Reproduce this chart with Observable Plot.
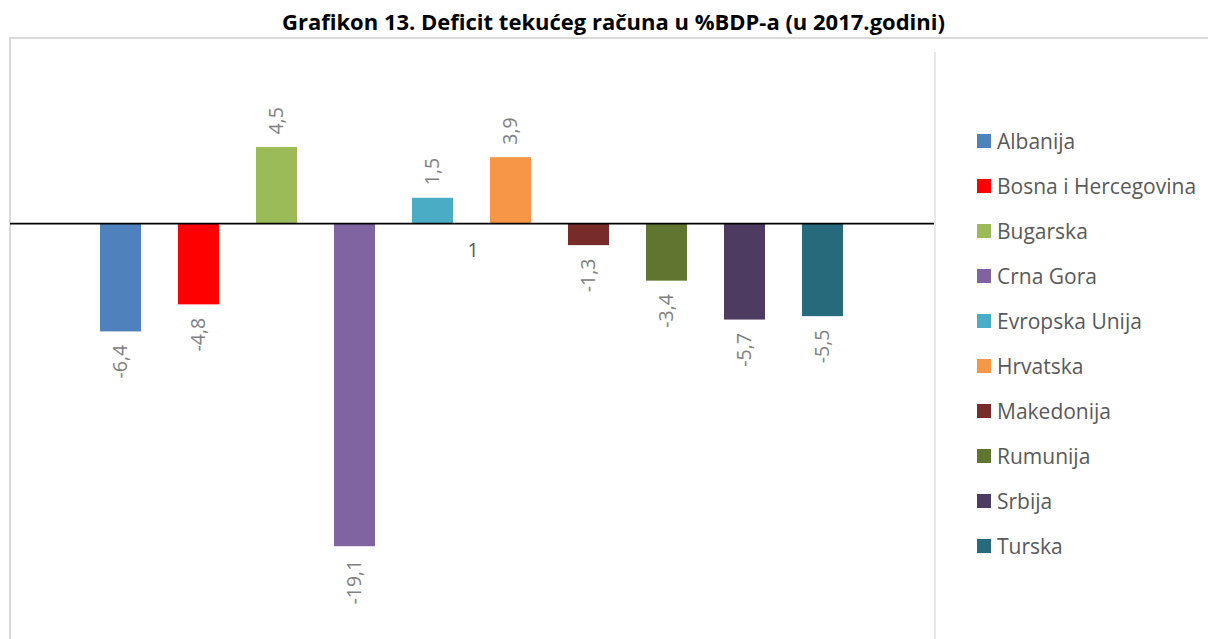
<!DOCTYPE html>
<html><head><meta charset="utf-8">
<script src="https://cdn.jsdelivr.net/npm/d3@7"></script>
<script src="https://cdn.jsdelivr.net/npm/@observablehq/plot@0.6"></script>
<style>
body{margin:0;width:1208px;height:639px;overflow:hidden;background:#fff;font-family:"Open Sans",sans-serif;position:relative}
#title{position:absolute;left:0;top:7px;width:1227px;text-align:center;font-weight:bold;font-size:22px;line-height:28px;color:#000;white-space:nowrap}
#frame{position:absolute;left:9px;top:37px;width:1300px;height:700px;border:2px solid #d9d9d9;box-sizing:border-box}
#chart{position:absolute;left:0;top:38px}
#legend{position:absolute;left:934px;top:52px;width:300px;height:700px;border-left:2px solid #e8e8e8;padding-top:66px;box-sizing:border-box}
.item{height:45px;display:flex;align-items:center;font-size:21px;color:#595959}
.sw{width:14px;height:14px;margin-left:41px;margin-right:6px;flex:none}
</style></head><body>
<div id="title"></div>
<div id="frame"></div>
<div id="chart"></div>
<div id="legend"></div>
<script>
const titleText = "Grafikon 13. Deficit tekućeg računa u %BDP-a (u 2017.godini)";
const countries = ["Albanija","Bosna i Hercegovina","Bugarska","Crna Gora","Evropska Unija","Hrvatska","Makedonija","Rumunija","Srbija","Turska"];
const values = [-6.4,-4.8,4.5,-19.1,1.5,3.9,-1.3,-3.4,-5.7,-5.5];
const colors = ["#4f81bd","#ff0000","#9bbb59","#8064a2","#4bacc6","#f79646","#772c2a","#5f7530","#4d3b62","#276a7c"];
const categoryLabels = ["1"];

document.getElementById("title").textContent = titleText;
const data = countries.map((c,i)=>({country:c, value:values[i]}));
const fmt = v => v.toFixed(1).replace(".", ",");

const chart = Plot.plot({
  width: 935, height: 601,
  marginLeft: 10, marginRight: 0, marginTop: 0, marginBottom: 0,
  x: {domain: countries, range: [82, 862], paddingInner: 0.47, paddingOuter: 0.235, axis: null},
  y: {domain: [-25, 10], range: [608, 16], axis: null},
  color: {domain: countries, range: colors},
  style: {fontFamily: "Open Sans", background: "transparent", overflow: "visible"},
  marks: [
    Plot.barY(data, {x: "country", y: "value", fill: "country"}),
    Plot.ruleY([0], {stroke: "#000", strokeWidth: 1.6}),
    Plot.text(data.filter(d => d.value >= 0), {x: "country", y: "value", text: d => fmt(d.value), rotate: -90, textAnchor: "start", lineAnchor: "middle", dy: -13, fill: "#808080", fontSize: 19.5}),
    Plot.text(data.filter(d => d.value < 0), {x: "country", y: "value", text: d => fmt(d.value), rotate: -90, textAnchor: "end", lineAnchor: "middle", dy: 13, fill: "#808080", fontSize: 19.5}),
    Plot.text(categoryLabels, {y: () => 0, text: d => d, dy: 27, fill: "#595959", fontSize: 19.5})
  ]
});
document.getElementById("chart").appendChild(chart);

const legend = document.getElementById("legend");
countries.forEach((c,i) => {
  const row = document.createElement("div");
  row.className = "item";
  const sw = document.createElement("span");
  sw.className = "sw"; sw.style.background = colors[i];
  const t = document.createElement("span");
  t.textContent = c;
  row.appendChild(sw); row.appendChild(t);
  legend.appendChild(row);
});
</script>
</body></html>
